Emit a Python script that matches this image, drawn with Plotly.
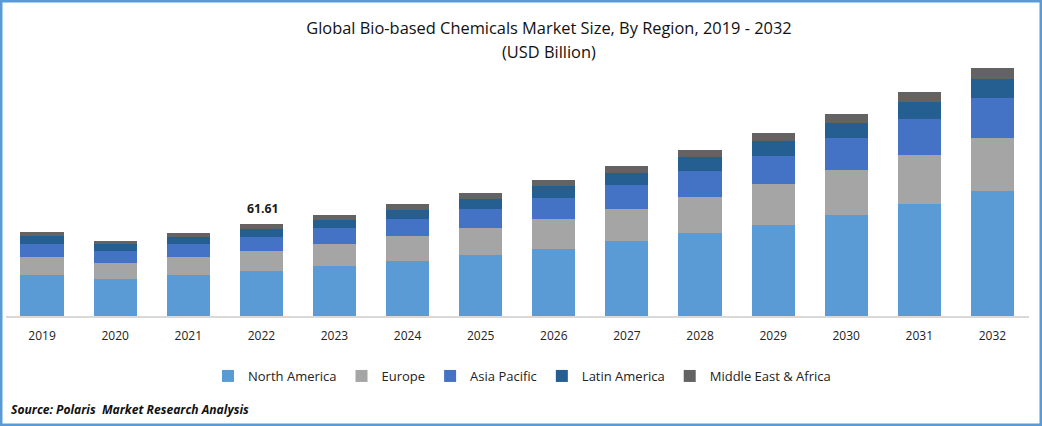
import plotly.graph_objects as go

years = ["2019","2020","2021","2022","2023","2024","2025","2026","2027","2028","2029","2030","2031","2032"]
north_america = [27.5,24.8,27.5,30.15,33.5,36.8,40.9,44.9,50.3,55.6,61.0,67.7,75.0,83.8]
europe = [12.1,10.7,12.1,13.4,14.7,16.8,18.1,20.1,21.4,24.1,27.5,30.2,32.8,35.5]
asia_pacific = [8.7,8.0,8.7,9.38,10.7,11.4,12.7,14.1,16.1,17.4,18.8,21.4,24.1,26.8]
latin_america = [5.4,4.7,4.7,5.36,5.4,6.0,6.7,8.0,8.0,9.4,10.1,10.1,11.4,12.7]
middle_east_africa = [2.7,2.0,2.7,3.32,3.4,4.0,4.0,4.0,4.7,4.7,5.4,6.0,6.7,7.4]
labelled_year = "2022"
labelled_text = "61.61"

series = [
    ("North America", north_america, "#5B9BD5"),
    ("Europe", europe, "#A5A5A5"),
    ("Asia Pacific", asia_pacific, "#4472C4"),
    ("Latin America", latin_america, "#255E91"),
    ("Middle East & Africa", middle_east_africa, "#636363"),
]
FONT = "Open Sans"
W, H = 1042, 426

fig = go.Figure()
for name, vals, col in series:
    fig.add_bar(x=years, y=vals, name=name, marker=dict(color=col, line=dict(width=0)))

idx = years.index(labelled_year)
total = sum(s[1][idx] for s in series)
fig.add_annotation(x=idx, y=total, text=f"<b>{labelled_text}</b>", showarrow=False,
                   yanchor="bottom", yshift=5, xshift=1.5, font=dict(family=FONT, size=12.3, color="#1a1a1a"))
fig.add_annotation(xref="paper", yref="paper", x=9/W, y=1-409/H, xanchor="left", yanchor="middle",
                   text="<b><i>Source: Polaris  Market Research Analysis</i></b>", showarrow=False,
                   font=dict(family=FONT, size=12.1, color="#111111"))
fig.add_annotation(xref="paper", yref="paper", x=549/W, y=1-51.5/H, xanchor="center", yanchor="middle",
                   text="(USD Billion)", showarrow=False,
                   font=dict(family=FONT, size=16.4, color="#111111"))
fig.add_shape(type="rect", xref="paper", yref="paper", x0=0, x1=1, y0=0, y1=1,
              line=dict(color="#5B9BD5", width=5), fillcolor="rgba(0,0,0,0)")
fig.update_layout(
    width=W, height=H, autosize=False, margin=dict(l=0, r=0, t=0, b=0, autoexpand=False),
    paper_bgcolor="white", plot_bgcolor="white", barmode="stack", bargap=0.41,
    font=dict(family=FONT, color="#222222", size=12),
    title=dict(text="Global Bio-based Chemicals Market Size, By Region, 2019 - 2032",
               x=549/W, xanchor="center", y=1-28/H, yanchor="middle", automargin=False,
               font=dict(family=FONT, size=16.4, color="#111111")),
    xaxis=dict(domain=[5.5/W, 1029/W], type="category", categoryorder="array", categoryarray=years,
               range=[-0.5, len(years)-0.5], showline=True, linecolor="#D9D9D9", linewidth=2,
               ticks="", showgrid=False, tickfont=dict(size=12, color="#222222"), ticklabelstandoff=8,
               automargin=False),
    yaxis=dict(domain=[110/H, (110+180/0.67)/H], range=[0,180], visible=False, showgrid=False),
    legend=dict(orientation="h", x=522/W, xanchor="center", y=1-376/H, yanchor="middle",
                traceorder="normal", font=dict(family=FONT, size=13, color="#222222"),
                itemwidth=30),
)
fig.write_html("out.html", config=dict(displayModeBar=False),
               post_script="document.body.style.margin='0';document.body.style.overflow='hidden';")
